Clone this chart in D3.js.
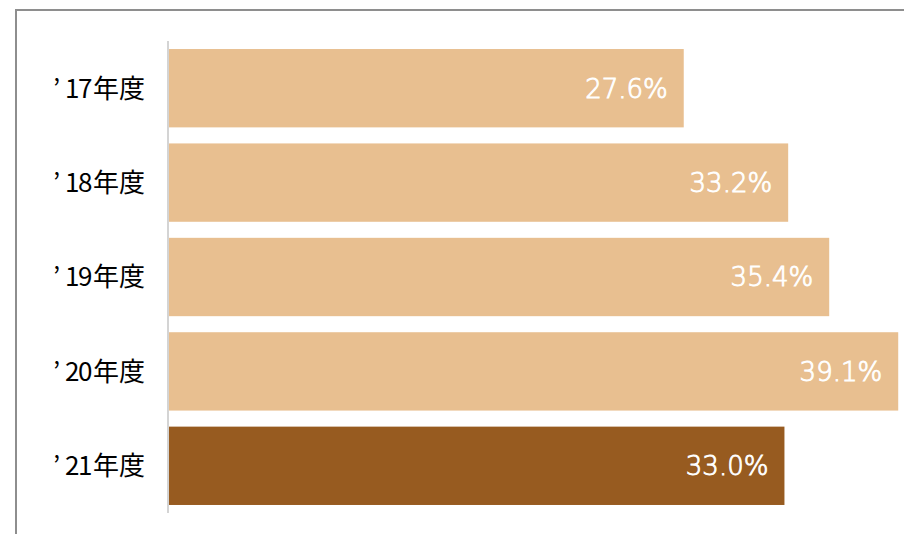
<!DOCTYPE html>
<html>
<head>
<meta charset="utf-8">
<script src="https://cdn.jsdelivr.net/npm/d3@7"></script>
<style>
  html, body { margin: 0; padding: 0; background: #fff; }
  svg { display: block; }
</style>
</head>
<body>
<svg id="chart" width="904" height="534"></svg>
<script>
// Fiscal-year categories and their ratios (%)
const years = ["’17年度", "’18年度", "’19年度", "’20年度", "’21年度"];
const values = [27.6, 33.2, 35.4, 39.1, 33.0];
const highlight = ["’21年度"];

const svg = d3.select("#chart");
const W = 904, H = 534;

// outer frame (runs off the right and bottom edges)
svg.append("rect")
  .attr("x", 16).attr("y", 10)
  .attr("width", W).attr("height", H)
  .attr("fill", "none")
  .attr("stroke", "#8e8e8e")
  .attr("stroke-width", 2);

const x = d3.scaleLinear().domain([0, 40]).range([169, 169 + 746]);
const y = d3.scaleBand().domain(years).range([41, 513]).paddingInner(0.17).paddingOuter(0.085);

// bars
svg.append("g").selectAll("rect")
  .data(years)
  .join("rect")
  .attr("x", x(0))
  .attr("y", d => y(d))
  .attr("width", (d, i) => x(values[i]) - x(0))
  .attr("height", y.bandwidth())
  .attr("fill", d => highlight.includes(d) ? "#975B20" : "#E8BF90");

// value labels inside bar ends (light face, slightly thickened)
svg.append("g").selectAll("text")
  .data(years)
  .join("text")
  .attr("x", (d, i) => x(values[i]) - 16)
  .attr("y", d => y(d) + y.bandwidth() / 2)
  .attr("dy", "0.36em")
  .attr("text-anchor", "end")
  .attr("fill", "#fff")
  .attr("stroke", "#fff")
  .attr("stroke-width", 0.9)
  .style("font-family", "'DejaVu Sans', sans-serif")
  .style("font-weight", "200")
  .style("font-size", "26px")
  .text((d, i) => values[i].toFixed(1) + "%");

// category axis: apostrophe, tightened year digits, then the kanji suffix
const yAxis = d3.axisLeft(y).tickSize(0).tickPadding(23);
const ga = svg.append("g").attr("transform", "translate(168,0)").call(yAxis);
ga.select(".domain").remove();
ga.selectAll("text")
  .attr("fill", "#000")
  .attr("dy", "0.36em")
  .style("font-family", "'Noto Sans CJK JP', sans-serif")
  .style("font-size", "26px")
  .text(null)
  .each(function (d) {
    const t = d3.select(this);
    t.append("tspan").text(d.slice(0, 1));
    t.append("tspan").attr("dx", 5)
      .style("letter-spacing", "-1.5px")
      .text(d.slice(1, 3));
    t.append("tspan").attr("dx", 2).text(d.slice(3));
  });

svg.append("line")
  .attr("x1", 168).attr("x2", 168)
  .attr("y1", 41).attr("y2", 513)
  .attr("stroke", "#d4d4d4")
  .attr("stroke-width", 2);
</script>
</body>
</html>
